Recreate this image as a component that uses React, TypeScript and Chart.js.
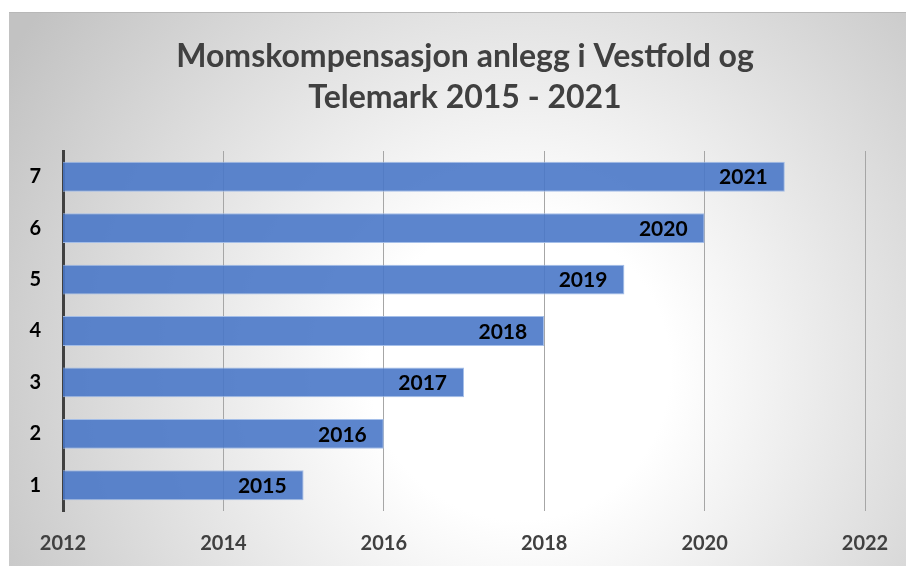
import React, { useEffect, useRef } from "react";
import { Chart, registerables } from "chart.js";

Chart.register(...registerables);

const categories = ["1", "2", "3", "4", "5", "6", "7"];
const yearValues = [2015, 2016, 2017, 2018, 2019, 2020, 2021];
const barLabels = ["2015", "2016", "2017", "2018", "2019", "2020", "2021"];
const titleLines = ["Momskompensasjon anlegg i Vestfold og", "Telemark 2015 - 2021"];
const xMin = 2012;
const xMax = 2022;
const xStep = 2;

const FONT = "Lato, 'Open Sans', sans-serif";

const bgPlugin = {
  id: "bgPlugin",
  beforeDraw(chart: any) {
    const { ctx, width, height } = chart;
    ctx.save();
    const x0 = 9, y0 = 12, x1 = width, y1 = height;
    const g = ctx.createRadialGradient(520, 370, 0, 520, 370, 600);
    g.addColorStop(0, "#ffffff");
    g.addColorStop(0.25, "#ffffff");
    g.addColorStop(1, "#c2c2c2");
    ctx.fillStyle = "#ffffff";
    ctx.fillRect(0, 0, width, height);
    ctx.fillStyle = g;
    ctx.fillRect(x0, y0, x1 - x0, y1 - y0);
    ctx.strokeStyle = "#b8b8b8";
    ctx.lineWidth = 1;
    ctx.beginPath();
    ctx.moveTo(x0, y0 + 0.5);
    ctx.lineTo(x1, y0 + 0.5);
    ctx.stroke();
    // title
    ctx.font = `bold 32px ${FONT}`;
    ctx.fillStyle = "#404040";
    ctx.textAlign = "center";
    ctx.textBaseline = "middle";
    titleLines.forEach((line, i) => {
      ctx.fillText(line, 465, 57 + i * 41);
    });
    ctx.restore();
  },
};

const labelPlugin = {
  id: "barLabelPlugin",
  afterDatasetsDraw(chart: any) {
    const { ctx } = chart;
    const meta = chart.getDatasetMeta(0);
    ctx.save();
    ctx.font = `bold 21px ${FONT}`;
    ctx.fillStyle = "#000000";
    ctx.textAlign = "right";
    ctx.textBaseline = "middle";
    meta.data.forEach((bar: any, i: number) => {
      ctx.fillText(barLabels[i], bar.x - 17, bar.y + 1);
    });
    ctx.restore();
  },
};

export default function App() {
  const ref = useRef<HTMLCanvasElement>(null);
  useEffect(() => {
    if (!ref.current) return;
    const chart = new Chart(ref.current, {
      type: "bar",
      data: {
        labels: categories,
        datasets: [
          {
            data: yearValues,
            backgroundColor: "rgba(74,120,200,0.9)",
            borderColor: "rgba(160,188,232,0.95)",
            borderWidth: 1,
            categoryPercentage: 1,
            barPercentage: 0.58,
          },
        ],
      },
      options: {
        indexAxis: "y",
        animation: false,
        responsive: false,
        maintainAspectRatio: false,
        layout: { padding: { left: 0, right: 41, top: 151, bottom: 0 } },
        plugins: {
          legend: { display: false },
          tooltip: { enabled: false },
          title: { display: false },
        },
        scales: {
          x: {
            type: "linear",
            min: xMin,
            max: xMax,
            afterFit(scale: any) {
              scale.height = 55;
              scale.paddingLeft = 0;
              scale.paddingRight = 0;
            },
            ticks: {
              stepSize: xStep,
              color: "#404040",
              font: { family: FONT, size: 20, weight: "bold" },
              padding: 21,
              callback: (v: any) => String(v),
            },
            grid: {
              drawTicks: false,
              color: (c: any) => (c.tick && c.tick.value === xMin ? "rgba(0,0,0,0)" : "#a6a6a6"),
              lineWidth: 1,
            },
            border: { display: false },
          },
          y: {
            reverse: true,
            afterFit(scale: any) {
              scale.width = 63;
              scale.paddingTop = 0;
              scale.paddingBottom = 0;
            },
            ticks: {
              color: "#000000",
              font: { family: FONT, size: 20, weight: "bold" },
              padding: 22,
            },
            grid: { display: false, drawTicks: false },
            border: { display: true, color: "#404040", width: 3 },
          },
        },
      },
      plugins: [bgPlugin, labelPlugin],
    });
    return () => chart.destroy();
  }, []);
  return (
    <div style={{ position: "absolute", left: 0, top: 0, width: 906, height: 566 }}>
      <canvas ref={ref} width={906} height={566} style={{ width: 906, height: 566 }} />
    </div>
  );
}
